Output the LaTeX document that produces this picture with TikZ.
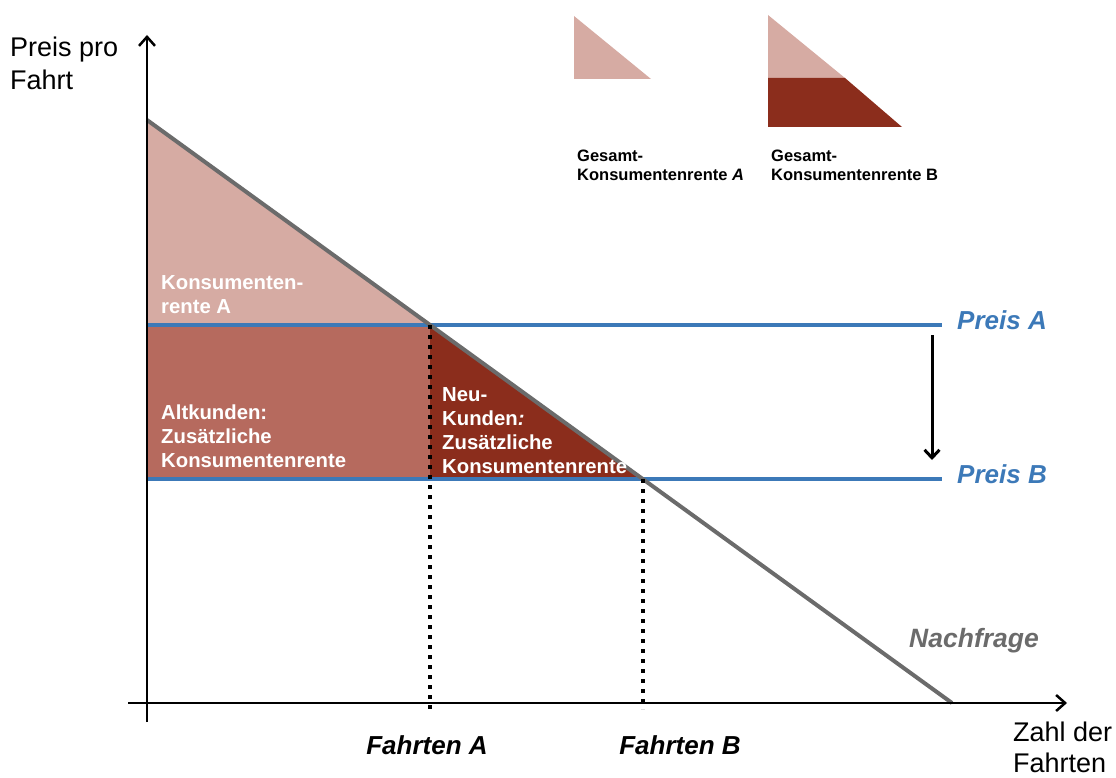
\documentclass[tikz,border=0pt]{standalone}
\usepackage{fontspec}
\setmainfont{Liberation Sans}
\usepackage{xcolor}
\usetikzlibrary{positioning,calc,arrows.meta}

\definecolor{rentelight}{HTML}{D6ABA3}
\definecolor{rentemid}{HTML}{B66A5E}
\definecolor{rentedark}{HTML}{8B2D1C}
\definecolor{preisblue}{HTML}{3C79B8}
\definecolor{demandgray}{HTML}{6B6B6B}

\newcommand{\axisfont}{\fontsize{27}{33}\selectfont}
\newcommand{\areafont}{\fontsize{20.3}{24}\selectfont\bfseries}
\newcommand{\legfont}{\fontsize{16.5}{19.5}\selectfont\bfseries}

\tikzset{
    axisline/.style={line width=2.5pt, -{Straight Barb[length=9pt,width=16pt]}},
    priceline/.style={preisblue, line width=4pt},
    demandline/.style={demandgray, line width=4pt},
    dropline/.style={black, line width=4pt, dash pattern=on 4pt off 6pt},
    lbl/.style={inner sep=0pt, anchor=base west, align=left},
    arealbl/.style={lbl, white, font=\areafont},
    leglbl/.style={lbl, black, font=\legfont},
}

\begin{document}
\begin{tikzpicture}[x=1pt,y=-1pt]
    \useasboundingbox (0,0) rectangle (1116,778);

    % Key points of the diagram
    \coordinate (ytop) at (147,35);
    \coordinate (ybot) at (147,722);
    \coordinate (xleft) at (128,703);
    \coordinate (xend) at (1067,703);
    \coordinate (dtop) at (147,120);
    \coordinate (dbot) at (952,703);
    \coordinate (qA) at (430,325);
    \coordinate (qB) at (643,479);
    \coordinate (qAlow) at (430,479);
    \coordinate (pstartA) at (147,325);
    \coordinate (pstartB) at (147,479);
    \coordinate (pendA) at (942,325);
    \coordinate (pendB) at (942,479);
    \coordinate (footA) at (430,709);
    \coordinate (footB) at (643,709);
    \coordinate (dropTop) at (932,335);
    \coordinate (dropBot) at (932,460);

    % Consumer surplus areas
    \fill [rentelight] (dtop) -- (qA) -- (pstartA) -- cycle;
    \fill [rentemid] (pstartA) -- (qA) -- (qAlow) -- (pstartB) -- cycle;
    \fill [rentedark] (qA) -- (qB) -- (qAlow) -- cycle;

    % Price lines
    \foreach \p in {A,B} {
        \draw [priceline] (pstart\p) -- (pend\p);
        \node [lbl, preisblue, font=\fontsize{26}{30}\selectfont\bfseries\itshape]
            (preis\p) at ([shift={(15,4)}]pend\p) {Preis \p};
    }

    % Demand curve
    \draw [demandline] (dtop) -- (dbot);
    \node [lbl, demandgray, font=\fontsize{26.5}{30}\selectfont\bfseries\itshape]
        (nachfrage) at (909,647) {Nachfrage};

    % Quantities
    \draw [dropline] (qA) -- (footA);
    \draw [dropline] (qB) -- (footB);
    \node [inner sep=0pt, anchor=base, font=\fontsize{26}{30}\selectfont\bfseries\itshape]
        (fahrtenA) at (427,754) {Fahrten A};
    \node [inner sep=0pt, anchor=base, font=\fontsize{26}{30}\selectfont\bfseries\itshape]
        (fahrtenB) at (680,754) {Fahrten B};

    % Price drop
    \draw [line width=3pt, -{Straight Barb[length=8pt,width=15pt]}] (dropTop) -- (dropBot);

    % Axes
    \draw [axisline] (ybot) -- (ytop);
    \draw [axisline] (xleft) -- (xend);
    \node [lbl, font=\axisfont] (ylabel) at (10,90) {Preis pro\\Fahrt};
    \node [lbl, font=\fontsize{27}{31}\selectfont] (xlabel) at (1013,772) {Zahl der\\Fahrten};

    % Area labels
    \node [arealbl] (renteA) at (161,313) {Konsumenten-\\rente A};
    \node [arealbl] (altkunden) at (161,467) {Altkunden:\\Zusätzliche\\Konsumentenrente};
    \node [arealbl] (neukunden) at (442,473) {Neu-\\Kunden\textit{:}\\Zusätzliche\\Konsumentenrente};

    % Legend
    \fill [rentelight] (574,16) -- (651,79) -- (574,79) -- cycle;
    \fill [rentelight] (768,15) -- (845,78) -- (768,78) -- cycle;
    \fill [rentedark] (768,78) -- (845,78) -- (902,127) -- (768,127) -- cycle;
    \node [leglbl] (legA) at (577,181) {Gesamt-\\Konsumentenrente \textit{A}};
    \node [leglbl] (legB) at (771,181) {Gesamt-\\Konsumentenrente B};
\end{tikzpicture}
\end{document}
